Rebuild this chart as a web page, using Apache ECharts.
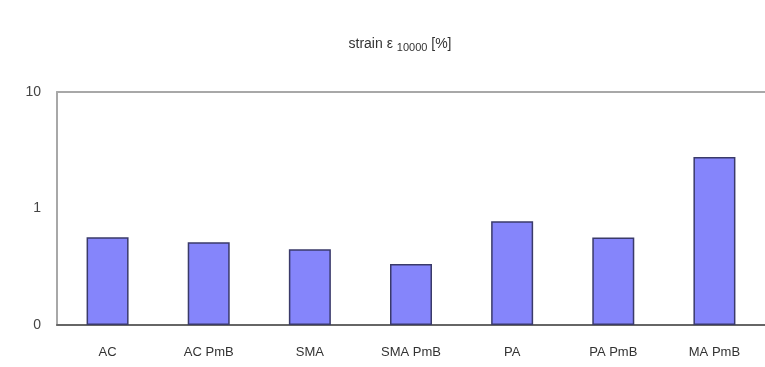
<!DOCTYPE html>
<html>
<head>
<meta charset="utf-8">
<script src="https://cdn.jsdelivr.net/npm/echarts@6/dist/echarts.min.js"></script>
<style>
html,body{margin:0;padding:0;background:#fff;}
#chart{width:765px;height:367px;}
</style>
</head>
<body>
<div id="chart"></div>
<script>
var categories = ["AC", "AC PmB", "SMA", "SMA PmB", "PA", "PA PmB", "MA PmB"];
var strainValues = [0.566, 0.513, 0.448, 0.334, 0.778, 0.564, 2.77];
var yTickLabels = {"0.1": "0", "1": "1", "10": "10"};
var axisMin = 0.1;

var baseData = categories.map(function () { return axisMin; });
var restData = strainValues.map(function (v) { return v - axisMin; });

var chart = echarts.init(document.getElementById('chart'));
chart.setOption({
  animation: false,
  backgroundColor: '#ffffff',
  title: {
    text: '{n|strain ε }{s|10000}{n| [%]}',
    left: 395,
    top: 30,
    textAlign: 'center',
    textStyle: {
      fontWeight: 'normal',
      rich: {
        n: {fontFamily: 'Liberation Sans', fontSize: 14, fontWeight: 'normal', color: '#333'},
        s: {fontFamily: 'Liberation Sans', fontSize: 11, fontWeight: 'normal', color: '#333', verticalAlign: 'bottom', padding: [7, 0, 0, 0]}
      }
    }
  },
  grid: {
    left: 57,
    top: 92,
    width: 714,
    height: 233
  },
  xAxis: [{
    type: 'category',
    data: categories,
    axisLine: {lineStyle: {color: '#666', width: 2}},
    axisTick: {show: false},
    axisLabel: {color: '#333', fontFamily: 'Liberation Sans', fontSize: 13, margin: 21}
  }, {
    type: 'category',
    position: 'top',
    data: categories,
    axisLine: {show: true, lineStyle: {color: '#a8a8a8', width: 2}},
    axisTick: {show: false},
    axisLabel: {show: false}
  }],
  yAxis: {
    type: 'log',
    logBase: 10,
    min: axisMin,
    max: 10,
    axisLine: {show: true, lineStyle: {color: '#a8a8a8', width: 2}},
    axisTick: {show: false},
    splitLine: {show: false},
    axisLabel: {
      color: '#444',
      fontFamily: 'Liberation Sans',
      fontSize: 14,
      margin: 16,
      formatter: function (v) {
        var k = String(Math.round(v * 10) / 10);
        return yTickLabels[k] !== undefined ? yTickLabels[k] : '';
      }
    }
  },
  series: [{
    type: 'bar',
    stack: 's',
    data: baseData,
    barWidth: 42,
    itemStyle: {color: 'rgba(0,0,0,0)', borderWidth: 0},
    silent: true
  }, {
    type: 'bar',
    stack: 's',
    data: restData,
    barWidth: 42,
    itemStyle: {color: '#8585fb', borderColor: '#3a3a6a', borderWidth: 1.5}
  }]
});
</script>
</body>
</html>
